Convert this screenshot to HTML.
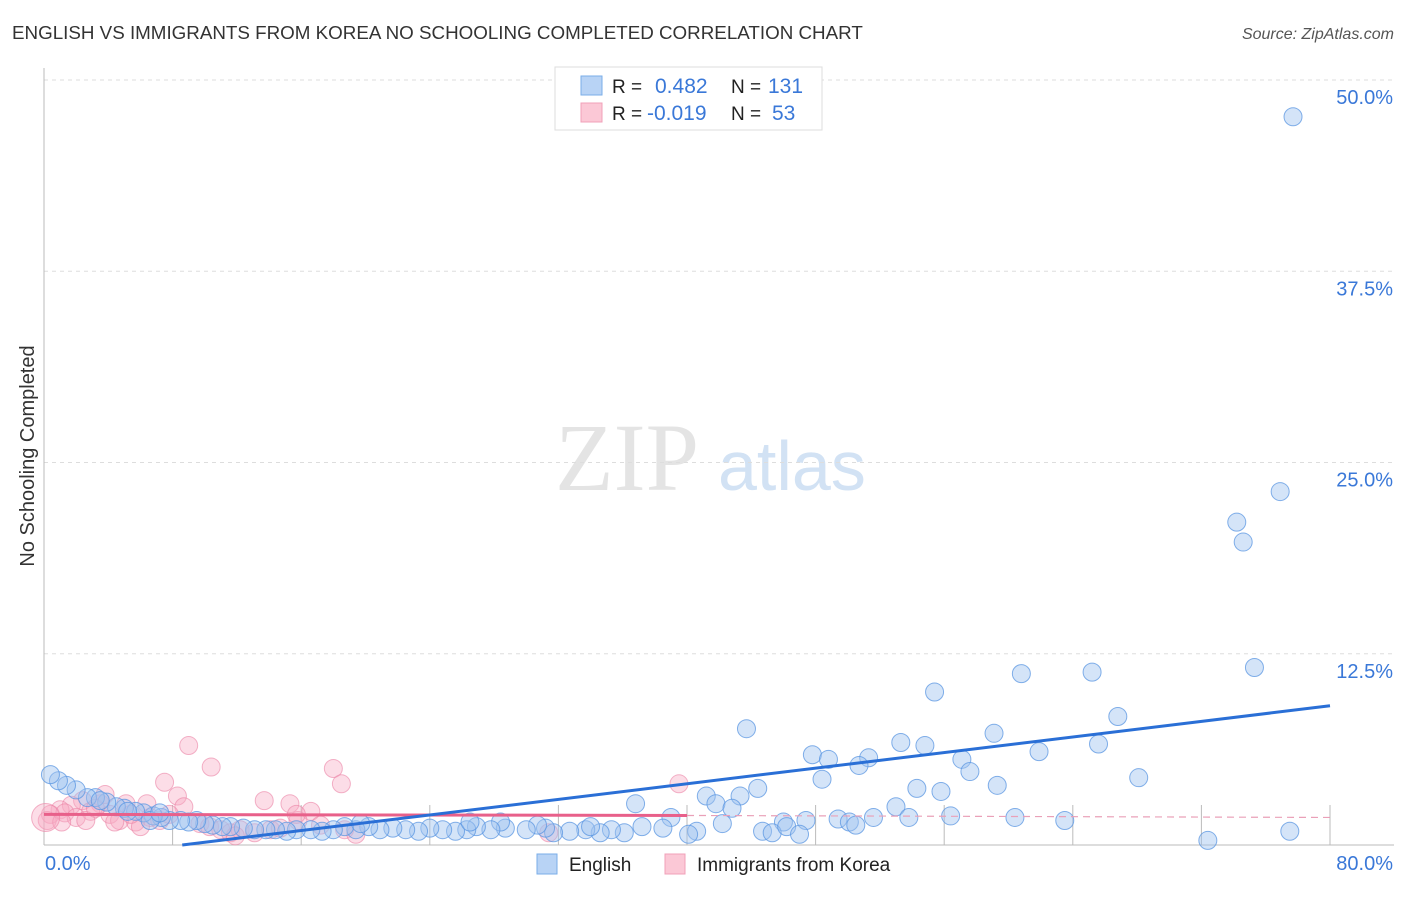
<!DOCTYPE html>
<html><head><meta charset="utf-8"><style>
body{margin:0;background:#fff;font-family:"Liberation Sans",sans-serif;}
</style></head><body>
<svg id="chart" width="1406" height="892" xmlns="http://www.w3.org/2000/svg">
<text x="12" y="39" font-size="18.8" fill="#333">ENGLISH VS IMMIGRANTS FROM KOREA NO SCHOOLING COMPLETED CORRELATION CHART</text>
<text x="1394" y="39" font-size="16" fill="#555" font-style="italic" text-anchor="end">Source: ZipAtlas.com</text>
<text x="0" y="0" transform="translate(34,456) rotate(-90)" font-size="20" fill="#333" text-anchor="middle">No Schooling Completed</text>
<g>
<text x="555" y="490" font-family="Liberation Serif,serif" font-size="96" fill="#e4e4e4">ZIP</text>
<text x="718" y="490" font-size="70" fill="#d2e2f4">atlas</text>
</g>
<g id="grid"></g>
<g id="ticks"></g>
<g id="pts"></g>
<g id="lines"></g>
<g>
<rect x="555" y="67" width="267" height="63" fill="#fff" stroke="#ddd"/>
<rect x="581" y="76" width="21" height="19" fill="#b8d3f5" stroke="#7aaee8"/>
<rect x="581" y="103" width="21" height="19" fill="#fbc8d6" stroke="#f0a0b8"/>
<text x="612" y="93" font-size="19" fill="#222">R = </text><text x="655" y="93" font-size="21" fill="#3a78d8">0.482</text>
<text x="731" y="93" font-size="19" fill="#222">N = </text><text x="768" y="93" font-size="21" fill="#3a78d8">131</text>
<text x="612" y="120" font-size="19" fill="#222">R = </text><text x="647" y="120" font-size="21" fill="#3a78d8">-0.019</text>
<text x="731" y="120" font-size="19" fill="#222">N = </text><text x="772" y="120" font-size="21" fill="#3a78d8">53</text>
</g>
<g>
<rect x="537" y="854" width="20" height="20" fill="#b8d3f5" stroke="#7aaee8"/>
<text x="569" y="871" font-size="19" fill="#222">English</text>
<rect x="665" y="854" width="20" height="20" fill="#fbc8d6" stroke="#f0a0b8"/>
<text x="697" y="871" font-size="19" fill="#222">Immigrants from Korea</text>
</g>
</svg>
<script>
const yTicks=[12.5,25,37.5,50];
const yTickLabels=["12.5%","25.0%","37.5%","50.0%"];
const xTicks=[0,8,16,24,32,40,48,56,64,72,80];
const xEndLabels=["0.0%","80.0%"];
const englishX=[77.7,76.9,74.2,74.6,75.3,60.8,65.2,55.4,66.8,43.7,65.6,59.1,47.8,54.8,53.3,51.3,61.9,57.1,50.7,57.6,48.8,48.4,68.1,54.3,55.8,59.3,44.4,43.3,41.2,41.8,42.8,36.8,39.0,53.0,53.8,56.4,60.4,63.5,49.4,50.1,50.5,51.6,46.0,47.4,42.2,44.7,45.3,46.2,47.0,72.4,77.5,40.6,40.1,38.5,37.2,36.1,35.3,34.6,33.7,32.7,31.7,31.2,30.7,30.0,28.7,28.4,27.8,26.9,26.3,25.6,24.8,24.0,23.3,22.5,21.7,20.9,20.2,19.4,18.7,18.0,17.3,16.6,15.7,15.1,14.4,13.8,13.1,12.4,11.6,11.1,10.5,10.0,9.5,9.0,8.5,7.8,7.3,6.8,6.2,5.7,5.0,4.5,3.9,3.2,2.7,2.0,1.4,0.9,0.4,6.6,5.2,3.5,7.2,26.5,19.7,34.0];
const englishY=[47.6,23.1,21.1,19.8,11.6,11.2,11.3,10.0,8.4,7.6,6.6,7.3,5.9,6.5,6.7,5.7,6.1,5.6,5.2,4.8,5.6,4.3,4.4,3.7,3.5,3.9,3.7,3.2,3.2,2.7,2.4,2.7,1.8,2.5,1.8,1.9,1.8,1.6,1.7,1.5,1.3,1.8,1.5,1.6,1.4,0.9,0.8,1.2,0.7,0.3,0.9,0.9,0.7,1.1,1.2,0.8,1.0,0.8,1.0,0.9,0.8,1.1,1.3,1.0,1.1,1.5,1.0,1.2,1.0,0.9,1.0,1.1,0.9,1.0,1.1,1.0,1.2,1.0,1.2,1.0,0.9,1.0,1.0,0.9,1.0,1.0,1.0,1.1,1.2,1.2,1.3,1.4,1.6,1.5,1.6,1.6,1.8,1.9,2.1,2.2,2.4,2.5,2.8,3.1,3.1,3.6,3.9,4.2,4.6,1.6,2.2,2.9,2.1,1.5,1.4,1.2];
const koreaX=[9.0,10.4,18.0,7.5,18.5,8.3,13.7,15.3,16.6,39.5,8.7,6.4,5.1,3.5,2.4,1.7,1.0,0.4,0.2,1.3,2.9,4.1,4.7,5.7,6.6,7.2,7.8,9.7,10.3,11.0,11.6,12.2,13.1,14.1,14.7,15.8,17.2,18.7,19.4,31.4,11.9,6.0,2.0,2.6,4.4,5.4,1.1,3.2,3.8,15.7,0.1];
const koreaY=[6.5,5.1,5.0,4.1,4.0,3.2,2.9,2.7,2.2,4.0,2.5,2.7,2.7,2.7,2.9,2.6,2.3,2.0,1.6,2.1,2.2,2.0,1.6,1.5,1.8,1.6,2.0,1.4,1.2,1.0,0.8,1.0,0.8,1.0,1.1,1.6,1.3,1.0,0.7,0.8,0.6,1.2,1.8,1.6,1.5,2.0,1.5,2.4,3.3,2.0,1.8];
const englishTrend=[8.6,0.0,80,9.1];
const koreaTrend=[0,2.0,40,1.93,80,1.8];
const X0=44,X1=1330,Y0=845,YT=80;
const sx=v=>X0+(X1-X0)*v/80;
const sy=v=>Y0-(Y0-YT)*v/50;
const NS="http://www.w3.org/2000/svg";
function mk(tag,attrs,parent){const e=document.createElementNS(NS,tag);for(const k in attrs)e.setAttribute(k,attrs[k]);parent.appendChild(e);return e;}
const grid=document.getElementById('grid'),ticks=document.getElementById('ticks'),pts=document.getElementById('pts'),lines=document.getElementById('lines');
yTicks.forEach((t,i)=>{
 const l=mk('line',{x1:X0,x2:1394,y1:sy(t),y2:sy(t),stroke:'#ddd','stroke-dasharray':'4,4'},grid);
 
 
 const tx=mk('text',{x:1393,y:sy(t)+24,'font-size':20,fill:'#3a78d8','text-anchor':'end'},ticks);
 tx.textContent=yTickLabels[i];
 
 
});
const ax=mk('line',{x1:X0,x2:1394,y1:Y0,y2:Y0,stroke:'#bbb'},ticks);


const ay=mk('line',{x1:X0,x2:X0,y1:68,y2:Y0,stroke:'#bbb'},ticks);


xTicks.forEach(t=>{const l=mk('line',{x1:sx(t),x2:sx(t),y1:Y0,y2:Y0-40,stroke:'#bbb'},ticks);
 
 });
const l0=mk('text',{x:45,y:870,'font-size':20,fill:'#3a78d8'},ticks);l0.textContent=xEndLabels[0];


const l1=mk('text',{x:1393,y:870,'font-size':20,fill:'#3a78d8','text-anchor':'end'},ticks);l1.textContent=xEndLabels[1];


koreaX.forEach((x,i)=>{const c=mk('circle',{cx:sx(x),cy:sy(koreaY[i]),r:i===koreaX.length-1?14:9,fill:'rgba(248,170,195,0.4)',stroke:'rgba(235,130,165,0.6)'},pts);
 
 });
englishX.forEach((x,i)=>{const c=mk('circle',{cx:sx(x),cy:sy(englishY[i]),r:9,fill:'rgba(160,196,240,0.45)',stroke:'rgba(90,150,225,0.75)'},pts);
 
 });
const kt1=mk('line',{x1:sx(koreaTrend[0]),y1:sy(koreaTrend[1]),x2:sx(koreaTrend[2]),y2:sy(koreaTrend[3]),stroke:'#e8608a','stroke-width':3},lines);


const kt2=mk('line',{x1:sx(koreaTrend[2]),y1:sy(koreaTrend[3]),x2:sx(koreaTrend[4]),y2:sy(koreaTrend[5]),stroke:'#eaa0b8','stroke-width':1.2,'stroke-dasharray':'7,5'},lines);


const et=mk('line',{x1:sx(englishTrend[0]),y1:sy(englishTrend[1]),x2:sx(englishTrend[2]),y2:sy(englishTrend[3]),stroke:'#2a6fd6','stroke-width':3},lines);


</script>
</body></html>
